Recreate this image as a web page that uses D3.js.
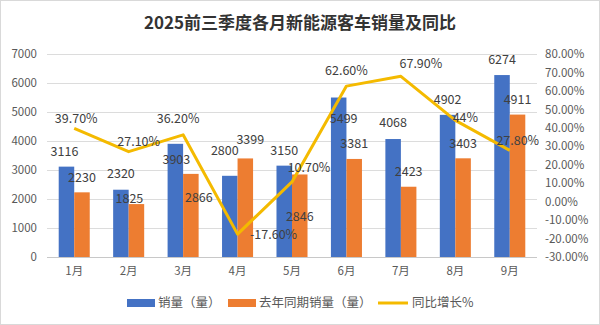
<html>
<meta charset="utf-8">
<head>
  <title>2025前三季度各月新能源客车销量及同比</title>
  <style>
    body, html { margin: 0; padding: 0; background: white; }
    #chart { width: 600px; height: 325px; }
    svg text { font-family: 'Noto Sans CJK SC', 'Noto Sans', sans-serif; }
    .y_axis path, .y2_axis path, .x_axis path { display: none; }
    .y_axis line, .y2_axis line, .x_axis line { display: none; }
    .y_axis text, .y2_axis text, .x_axis text { font-size: 11.5px; fill: #595959; }
    .grid line { stroke: #dcdcdc; stroke-width: 1; }
    .grid path { display: none; }
    .labels text { font-size: 12.5px; fill: #404040; text-anchor: middle; }
    .legend text { font-size: 12.5px; fill: #595959; }
  </style>
  <script src="https://d3js.org/d3.v7.min.js"></script>
</head>
<body>
<div id="chart"></div>
<script>
var months = ["1月", "2月", "3月", "4月", "5月", "6月", "7月", "8月", "9月"];
var sales = [3116, 2320, 3903, 2800, 3150, 5499, 4068, 4902, 6274];
var sales_last = [2230, 1825, 2866, 3399, 2846, 3381, 2423, 3403, 4911];
var yoy = [39.7, 27.1, 36.2, -17.6, 10.7, 62.6, 67.9, 44, 27.8];
var yoy_text = ["39.70%", "27.10%", "36.20%", "-17.60%", "10.70%", "62.60%", "67.90%", "44%", "27.80%"];
var left_ticks = [0, 1000, 2000, 3000, 4000, 5000, 6000, 7000];
var right_ticks = [-30, -20, -10, 0, 10, 20, 30, 40, 50, 60, 70, 80];
var series_names = ["销量（量）", "去年同期销量（量）", "同比增长%"];

// label nudges, as placed by hand in the original chart
var sales_lbl = [[-2, -15], [0, -16], [1, 16], [-5, -25], [0, -15], [5, 21], [0, -16], [0, -15], [0, -15]];
var last_lbl = [[0, -15], [-7, -5], [8, 24], [5, -19], [0, 42], [0, -15], [0, -15], [0, -15], [0, -15]];
var yoy_lbl = [[2, -10], [10, -10], [-5, -16], [36, 1], [17, -14], [0, -15], [20, -13], [10, -3], [8, -10]];

var colors = ["#4472c4", "#ed7d31", "#f4ba00"];

var margin = { top: 54, right: 63, bottom: 68, left: 47 };
var width = 600 - margin.left - margin.right;
var height = 325 - margin.top - margin.bottom;

var svg = d3.select("#chart")
            .append("svg")
            .attr("width", 600)
            .attr("height", 325);

svg.append("rect")
   .attr("x", 0.5).attr("y", 0.5)
   .attr("width", 599).attr("height", 324)
   .attr("fill", "white")
   .attr("stroke", "#d9d9d9");

svg.append("text")
   .attr("x", 300)
   .attr("y", 29)
   .attr("text-anchor", "middle")
   .style("font-size", "17px")
   .style("font-weight", "700")
   .style("fill", "#333333")
   .text("2025前三季度各月新能源客车销量及同比");

var chart = svg.append("g")
               .attr("transform", "translate(" + margin.left + "," + margin.top + ")");

var x = d3.scaleBand().domain(months).range([0, width])
          .paddingInner(0.43).paddingOuter(0.215);
var x_inner = d3.scaleBand().domain([0, 1]).range([0, x.bandwidth()]);
var y = d3.scaleLinear().domain([0, 7000]).range([height, 0]);
var y2 = d3.scaleLinear().domain([-30, 80]).range([height, 0]);
var cx = function(i) { return x(months[i]) + x.bandwidth() / 2; };

chart.append("g")
     .attr("class", "grid")
     .call(d3.axisLeft(y).tickValues(left_ticks).tickSize(-width).tickFormat(""));

chart.select(".grid").selectAll("line")
     .filter(function(d) { return d === 0; })
     .style("stroke", "#c8c8c8");

chart.append("g")
     .attr("class", "y_axis")
     .call(d3.axisLeft(y).tickValues(left_ticks).tickSize(0).tickPadding(10)
             .tickFormat(d3.format("d")));

chart.append("g")
     .attr("class", "y2_axis")
     .attr("transform", "translate(" + width + ",0)")
     .call(d3.axisRight(y2).tickValues(right_ticks).tickSize(0).tickPadding(8)
             .tickFormat(function(d) { return d.toFixed(2) + "%"; }));

chart.append("g")
     .attr("class", "x_axis")
     .attr("transform", "translate(0," + height + ")")
     .call(d3.axisBottom(x).tickSize(0).tickPadding(10));

[sales, sales_last].forEach(function(series, k) {
  chart.append("g")
       .selectAll("rect")
       .data(series)
       .enter()
       .append("rect")
       .attr("x", function(d, i) { return x(months[i]) + x_inner(k); })
       .attr("y", function(d) { return y(d); })
       .attr("width", x_inner.bandwidth())
       .attr("height", function(d) { return height - y(d); })
       .attr("fill", colors[k]);
});

var line = d3.line()
             .x(function(d, i) { return cx(i); })
             .y(function(d) { return y2(d); });

chart.append("path")
     .datum(yoy)
     .attr("d", line)
     .attr("fill", "none")
     .attr("stroke", colors[2])
     .attr("stroke-width", 3)
     .attr("stroke-linejoin", "round");

var labels = chart.append("g").attr("class", "labels");

[[sales, sales_lbl], [sales_last, last_lbl]].forEach(function(pair, k) {
  labels.append("g")
        .selectAll("text")
        .data(pair[0])
        .enter()
        .append("text")
        .attr("x", function(d, i) { return x(months[i]) + x_inner(k) + x_inner.bandwidth() / 2 + pair[1][i][0]; })
        .attr("y", function(d, i) { return y(d) + pair[1][i][1]; })
        .attr("dy", "0.35em")
        .text(function(d) { return d; });
});

labels.append("g")
      .selectAll("text")
      .data(yoy)
      .enter()
      .append("text")
      .attr("x", function(d, i) { return cx(i) + yoy_lbl[i][0]; })
      .attr("y", function(d, i) { return y2(d) + yoy_lbl[i][1]; })
      .attr("dy", "0.35em")
      .text(function(d, i) { return yoy_text[i]; });

// legend
var legend = svg.append("g").attr("class", "legend").attr("transform", "translate(0,303)");
var legend_x = [127, 228, 378];
series_names.forEach(function(name, k) {
  var g = legend.append("g").attr("transform", "translate(" + legend_x[k] + ",0)");
  if (k < 2) {
    g.append("rect").attr("x", 0).attr("y", -4).attr("width", 28).attr("height", 8).attr("fill", colors[k]);
  } else {
    g.append("line").attr("x1", 0).attr("x2", 30).attr("y1", 0).attr("y2", 0)
     .attr("stroke", colors[k]).attr("stroke-width", 3);
  }
  g.append("text").attr("x", k < 2 ? 31 : 34).attr("y", 0).attr("dy", "0.35em").text(name);
});
</script>
</body>
</html>
